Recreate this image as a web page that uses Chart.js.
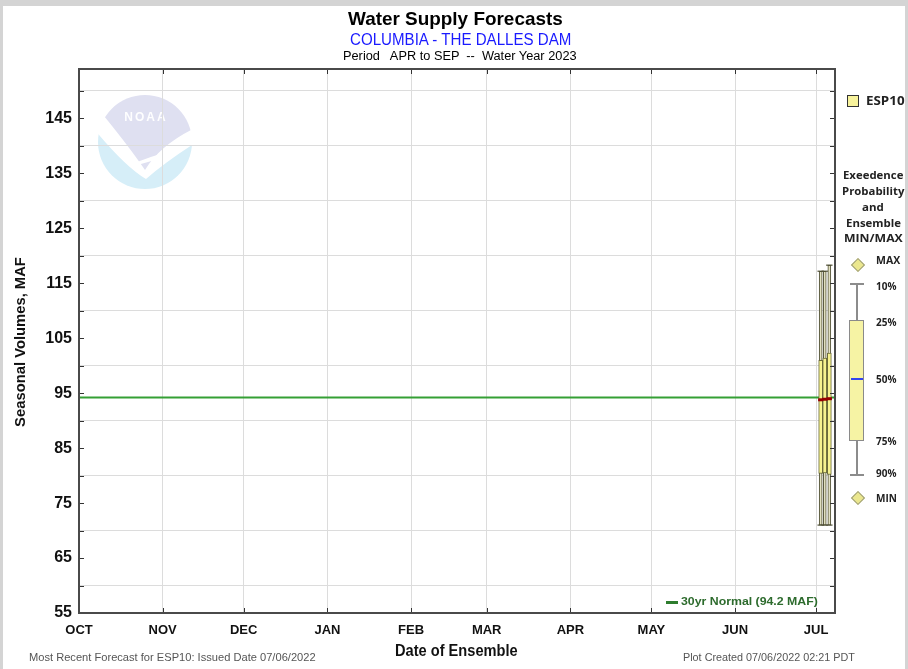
<!DOCTYPE html>
<html><head><meta charset="utf-8">
<script src="https://cdn.jsdelivr.net/npm/chart.js@4.4.0/dist/chart.umd.min.js"></script>
<style>
html,body{margin:0;padding:0;background:#fff;}
#wrap{position:relative;width:908px;height:669px;overflow:hidden;background:#fff;}
#frame{position:absolute;left:0;top:0;width:908px;height:669px;box-sizing:border-box;border-top:6px solid #d4d4d4;border-left:3px solid #d4d4d4;border-right:3px solid #d4d4d4;pointer-events:none;}
canvas{position:absolute;left:0;top:0;}
.t{position:absolute;white-space:pre;line-height:1;font-family:"Liberation Sans",Arial,sans-serif;}
.lg{position:absolute;white-space:pre;line-height:1;font-family:"Open Sans","Liberation Sans",sans-serif;color:#222;}
.abs{position:absolute;}
</style></head>
<body><div id="wrap"><canvas id="c" width="908" height="669" style="width:908px;height:669px"></canvas><div id="frame"></div></div>
<script>
// ---- data ----
const monthLabels = ['OCT','NOV','DEC','JAN','FEB','MAR','APR','MAY','JUN','JUL'];
const monthDays = [0,31,61,92,123,151,182,212,243,273];   // days since Oct 1
const xMin = 0, xMax = 280;
const yMin = 55, yMax = 154;
const yTickValues = [55,60,65,70,75,80,85,90,95,100,105,110,115,120,125,130,135,140,145,150];
const forecastDays = [274.7, 276.2, 277.9];
const p10 = [117.2, 117.2, 118.3];
const p25 = [101.0, 101.4, 102.3];
const p50 = [93.8, 93.9, 94.0];
const p75 = [80.4, 80.5, 80.2];
const p90 = [71.0, 71.0, 71.0];
const normalValue = 94.2;

const wrap = document.getElementById('wrap');

function drawLogo(ctx){
  const cx=145, cy=142, r=47;
  ctx.save();
  ctx.beginPath(); ctx.arc(cx,cy,r,0,Math.PI*2); ctx.clip();
  ctx.fillStyle='#ffffff'; ctx.fillRect(cx-r-2,cy-r-2,2*r+4,2*r+4);
  // sea (cyan) below the bird
  ctx.fillStyle='#d6eef8';
  ctx.beginPath();
  ctx.moveTo(90, 124);
  ctx.quadraticCurveTo(124, 166, 146, 179);
  ctx.quadraticCurveTo(168, 160, 200, 140);
  ctx.lineTo(200, 200);
  ctx.lineTo(90, 200);
  ctx.closePath(); ctx.fill();
  // sky (lavender) above the bird
  ctx.fillStyle='#dfe0f1';
  ctx.beginPath();
  ctx.moveTo(104, 90);
  ctx.lineTo(104, 116);
  ctx.quadraticCurveTo(130, 148, 145, 170);
  ctx.quadraticCurveTo(160, 145, 195, 128);
  ctx.lineTo(195, 90);
  ctx.closePath(); ctx.fill();
  // tail swoosh (white) into the sea
  ctx.fillStyle='#ffffff';
  ctx.beginPath();
  ctx.moveTo(128, 166);
  ctx.quadraticCurveTo(150, 156, 172, 151);
  ctx.quadraticCurveTo(152, 164, 128, 166);
  ctx.closePath(); ctx.fill();
  ctx.restore();
  ctx.save();
  ctx.fillStyle='rgba(255,255,255,0.95)';
  ctx.font='bold 12px "Liberation Sans", Arial, sans-serif';
  try{ ctx.letterSpacing='2px'; }catch(e){}
  ctx.textAlign='center'; ctx.textBaseline='middle';
  ctx.fillText('NOAA', cx+1, cy-24);
  ctx.restore();
}

const bgPlugin = {
  id:'bg',
  beforeDraw(chart){
    const ctx = chart.ctx;
    ctx.save(); ctx.fillStyle='#fff'; ctx.fillRect(0,0,chart.width,chart.height); ctx.restore();
    drawLogo(ctx);
  }
};

const framePlugin = {
  id:'frameTicks',
  afterDraw(chart){
    const {ctx, chartArea:a, scales} = chart;
    const ys = scales.y, xs = scales.x;
    ctx.save();
    ctx.strokeStyle='#333'; ctx.lineWidth=1;
    ctx.beginPath();
    yTickValues.forEach(v=>{
      const py = Math.round(ys.getPixelForValue(v))+0.5;
      ctx.moveTo(a.left, py); ctx.lineTo(a.left+5, py);
      ctx.moveTo(a.right, py); ctx.lineTo(a.right-5, py);
    });
    monthDays.forEach(d=>{
      if(d===xMin) return;
      const px = Math.round(xs.getPixelForValue(d))+0.5;
      ctx.moveTo(px, a.top); ctx.lineTo(px, a.top+5);
      ctx.moveTo(px, a.bottom); ctx.lineTo(px, a.bottom-5);
    });
    ctx.stroke();
    ctx.strokeStyle='#4a4a4a'; ctx.lineWidth=2;
    ctx.strokeRect(a.left, a.top, a.right-a.left, a.bottom-a.top);
    ctx.restore();
  }
};

const boxFill = '#f7f390', boxEdge = '#6b6b3a', whiskEdge = '#4f4f35';

new Chart(document.getElementById('c'), {
  type:'bar',
  data:{
    datasets:[
      { type:'line', label:'30yr Normal', data:[{x:xMin,y:normalValue},{x:xMax,y:normalValue}],
        borderColor:'#35a035', borderWidth:2, pointRadius:0, order:6 },
      { type:'bar', label:'whisker', data: forecastDays.map((d,i)=>({x:d, y:[p90[i], p10[i]]})),
        backgroundColor:'#e2e0c0', borderColor:whiskEdge, borderWidth:1, borderSkipped:false,
        barThickness:3, grouped:false, order:5 },
      { type:'bar', label:'ESP10', data: forecastDays.map((d,i)=>({x:d, y:[p75[i], p25[i]]})),
        backgroundColor:boxFill, borderColor:boxEdge, borderWidth:1, borderSkipped:false,
        barThickness:4, grouped:false, order:4 },
      { type:'scatter', label:'caps', data: forecastDays.map((d,i)=>({x:d, y:p10[i]})).concat(forecastDays.map((d,i)=>({x:d, y:p90[i]}))),
        showLine:false, pointStyle:'line', pointRadius:3.2, pointBorderColor:whiskEdge, pointBorderWidth:1.2, order:3 },
      { type:'scatter', label:'median', data: forecastDays.map((d,i)=>({x:d, y:p50[i]})),
        showLine:false, pointStyle:'line', pointRadius:2.6, pointBorderColor:'#960000', pointBorderWidth:3, order:1 }
    ]
  },
  options:{
    responsive:false, devicePixelRatio:1, animation:false,
    layout:{ padding:{ top:69, right:73, left:0, bottom:0 } },
    plugins:{ legend:{display:false}, tooltip:{enabled:false}, title:{display:false} },
    scales:{
      x:{ type:'linear', min:xMin, max:xMax, offset:false,
        afterFit(s){ s.height = 56; },
        afterBuildTicks(s){ s.ticks = monthDays.map(v=>({value:v})); },
        grid:{ offset:false, drawTicks:false, color:(c)=> (c.tick && c.tick.value===xMin) ? 'rgba(0,0,0,0)' : '#dcdcdc', lineWidth:1 },
        border:{ display:false },
        ticks:{ autoSkip:false, maxRotation:0, padding:10, color:'#111',
          font:{ family:'"Liberation Sans", Arial, sans-serif', size:13, weight:'bold' },
          callback:(v,i)=> monthLabels[i] }
      },
      y:{ type:'linear', min:yMin, max:yMax,
        afterFit(s){ s.width = 79; },
        afterBuildTicks(s){ s.ticks = yTickValues.map(v=>({value:v})); },
        grid:{ drawTicks:false, color:(c)=> (c.tick && c.tick.value % 10 === 0) ? '#dcdcdc' : 'rgba(0,0,0,0)', lineWidth:1 },
        border:{ display:false },
        ticks:{ autoSkip:false, padding:7, color:'#111',
          font:{ family:'"Liberation Sans", Arial, sans-serif', size:16, weight:'bold' },
          callback:(v)=> ((v-55) % 10 === 0) ? String(v) : '' }
      }
    }
  },
  plugins:[bgPlugin, framePlugin]
});

// ---- text helpers ----
function addText(txt, o){
  const el = document.createElement('span');
  el.className = o.cls || 't';
  el.textContent = txt;
  el.style.fontSize = o.size + 'px';
  el.style.fontWeight = o.bold ? '700' : '400';
  el.style.color = o.color || '#111';
  wrap.appendChild(el);
  const w = el.offsetWidth, h = el.offsetHeight;
  const tw = o.width || w;
  const k = tw / w;
  if(o.rotate){
    el.style.left = (o.cx - w/2) + 'px';
    el.style.top = (o.cy - h/2) + 'px';
    el.style.transformOrigin = 'center center';
    el.style.transform = 'rotate(-90deg) scaleX(' + k + ')';
    return el;
  }
  let left;
  if(o.cx !== undefined) left = o.cx - tw/2;
  else if(o.right !== undefined) left = o.right - tw;
  else left = o.left;
  el.style.left = left + 'px';
  el.style.top = (o.cy - h/2) + 'px';
  el.style.transformOrigin = 'left center';
  if(o.width) el.style.transform = 'scaleX(' + k + ')';
  return el;
}
function addBox(x,y,w,h,style){
  const d = document.createElement('div');
  d.className='abs';
  d.style.left=x+'px'; d.style.top=y+'px'; d.style.width=w+'px'; d.style.height=h+'px';
  Object.assign(d.style, style||{});
  wrap.appendChild(d);
  return d;
}

// titles
addText('Water Supply Forecasts', {cx:455, cy:18, size:19, bold:true, width:215, color:'#000'});
addText('COLUMBIA - THE DALLES DAM', {cx:460.5, cy:40, size:16, width:221, color:'#1a1aff'});
addText('Period   APR to SEP  --  Water Year 2023', {cx:460, cy:56, size:12.5, width:234, color:'#000'});
addText('Seasonal Volumes, MAF', {cx:20, cy:342, size:14, bold:true, width:170, rotate:true, color:'#111'});
addText('Date of Ensemble', {cx:456.5, cy:650, size:17, bold:true, width:123, color:'#111'});
addText('Most Recent Forecast for ESP10: Issued Date 07/06/2022', {left:29, cy:658, size:11.5, width:287, color:'#555'});
addText('Plot Created 07/06/2022 02:21 PDT', {right:855, cy:658, size:11.5, width:172, color:'#555'});

// normal label inside plot
addBox(666, 601, 12, 2.5, {background:'#2e7d2e'});
addText('30yr Normal (94.2 MAF)', {left:681, cy:602, size:11.5, bold:true, width:137, color:'#2d6b2d'});

// right legend
addBox(847, 95, 10, 10, {background:'#f8f39c', border:'1px solid #333'});
addText('ESP10', {cls:'lg', left:866, cy:101, size:12, bold:true, width:39, color:'#222'});
const exLines = ['Exeedence','Probability','and','Ensemble','MIN/MAX'];
const exY = [174,190,206,222,237];
const exW = [60,62,22,55,59];
exLines.forEach((s,i)=> addText(s, {cls:'lg', cx:873, cy:exY[i], size:11, bold:true, width:exW[i], color:'#222'}));
function diamond(cx,cy){
  addBox(cx-4.5, cy-4.5, 8, 8, {background:'#ebe78e', border:'1px solid #9b9b78', transform:'rotate(45deg)'});
}
diamond(857, 264);
diamond(857, 497);
addBox(856, 284, 2, 191, {background:'#8c8c8c'});
addBox(850, 283, 14, 2, {background:'#8c8c8c'});
addBox(850, 474, 14, 2, {background:'#8c8c8c'});
addBox(849, 320, 13, 119, {background:'#f6f3a4', border:'1.5px solid #8a8a8a'});
addBox(850.5, 378, 12, 2, {background:'#3344ee'});
const lgLab = ['MAX','10%','25%','50%','75%','90%','MIN'];
const lgY = [260,286,322,379,441,473,498];
const lgW = [24,20,20,20,20,20,21];
lgLab.forEach((s,i)=> addText(s, {cls:'lg', left:876, cy:lgY[i], size:10.5, bold:true, width:lgW[i], color:'#222'}));
</script></body></html>
